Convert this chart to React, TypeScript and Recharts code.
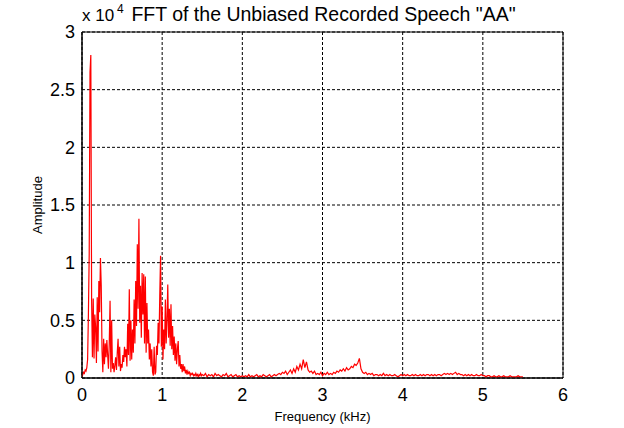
import React from "react";
import { LineChart, Line, XAxis, YAxis, CartesianGrid, ReferenceArea } from "recharts";

// Amplitudes in units of 10^4. Low band: 0.00–1.49 kHz, 0.01 kHz bins.
const lowBandStart = 0;
const lowBandStep = 0.01;
const lowBand = [
  0.01, 0.03, 0.05, 0.04, 0.07, 0.06, 0.09, 0.16, 0.56, 1.08,
  2.65, 2.8, 0.67, 0.18, 0.69, 0.17, 0.55, 0.44, 0.13, 0.7,
  0.23, 0.84, 0.57, 1.04, 0.8, 0.23, 0.05, 0.34, 0.12, 0.3,
  0.18, 0.33, 0.2, 0.08, 0.3, 0.67, 0.05, 0.5, 0.08, 0.13,
  0.05, 0.11, 0.18, 0.07, 0.22, 0.34, 0.1, 0.27, 0.06, 0.12,
  0.09, 0.2, 0.14, 0.27, 0.18, 0.25, 0.1, 0.47, 0.2, 0.77,
  0.15, 0.5, 0.16, 0.42, 0.22, 0.68, 0.3, 0.84, 0.45, 1.16,
  0.6, 1.38, 0.48, 0.8, 0.35, 0.91, 0.55, 0.9, 0.3, 0.88,
  0.22, 0.65, 0.3, 0.42, 0.16, 0.3, 0.1, 0.25, 0.05, 0.02,
  0.27, 0.03, 0.05, 0.28, 0.2, 0.48, 0.3, 0.71, 1.06, 0.27,
  0.62, 0.16, 0.42, 0.25, 0.68, 0.3, 0.5, 0.81, 0.35, 0.6,
  0.28, 0.64, 0.25, 0.45, 0.2, 0.36, 0.15, 0.3, 0.12, 0.25,
  0.32, 0.1, 0.2, 0.08, 0.12, 0.05, 0.12, 0.06, 0.1, 0.04,
  0.07, 0.03, 0.06, 0.04, 0.05, 0.02, 0.04, 0.03, 0.04, 0.02,
  0.03, 0.02, 0.04, 0.02, 0.03, 0.01, 0.03, 0.02, 0.04, 0.02,
];

// High band: 1.50–5.50 kHz, 0.02 kHz bins.
const highBandStart = 1.5;
const highBandStep = 0.02;
const highBand = [
  // 1.50–2.00
  0.03, 0.02, 0.04, 0.01, 0.03, 0.02, 0.03, 0.01, 0.04, 0.02, 0.03, 0.02, 0.01,
  0.03, 0.02, 0.04, 0.01, 0.02, 0.03, 0.01, 0.02, 0.03, 0.01, 0.02, 0.01, 0.02,
  // 2.02–2.44
  0.01, 0.02, 0.01, 0.03, 0.01, 0.02, 0.01, 0.02, 0.03, 0.01, 0.02,
  0.01, 0.03, 0.02, 0.01, 0.02, 0.03, 0.01, 0.02, 0.03, 0.02, 0.03,
  // 2.46–2.62
  0.04, 0.03, 0.05, 0.04, 0.06, 0.03, 0.05, 0.07, 0.04,
  // 2.64–2.82
  0.08, 0.05, 0.1, 0.07, 0.12, 0.08, 0.16, 0.09, 0.14, 0.07,
  // 2.84–2.92
  0.05, 0.06, 0.04, 0.06, 0.03,
  // 2.94–3.12
  0.04, 0.03, 0.05, 0.02, 0.04, 0.03, 0.05, 0.03, 0.04, 0.03,
  // 3.14–3.32
  0.05, 0.04, 0.06, 0.05, 0.07, 0.06, 0.08, 0.06, 0.09, 0.07,
  // 3.34–3.50
  0.08, 0.1, 0.09, 0.12, 0.11, 0.13, 0.17, 0.08, 0.05,
  // 3.52–3.94
  0.04, 0.05, 0.03, 0.04, 0.03, 0.04, 0.02, 0.03, 0.03, 0.02, 0.03,
  0.02, 0.04, 0.02, 0.03, 0.02, 0.03, 0.02, 0.02, 0.03, 0.02, 0.01,
  // 3.96–4.48
  0.02, 0.03, 0.02, 0.03, 0.02, 0.03, 0.02, 0.02, 0.03, 0.02, 0.03, 0.02, 0.02, 0.03,
  0.02, 0.03, 0.02, 0.03, 0.03, 0.02, 0.03, 0.02, 0.03, 0.02, 0.03, 0.03, 0.02,
  // 4.50–4.76
  0.03, 0.04, 0.03, 0.04, 0.03, 0.04, 0.03, 0.04, 0.05, 0.03, 0.04, 0.03, 0.03, 0.02,
  // 4.78–5.10
  0.03, 0.02, 0.03, 0.02, 0.03, 0.02, 0.02, 0.03, 0.02, 0.02, 0.03, 0.02, 0.02, 0.01, 0.02, 0.02, 0.01,
  // 5.12–5.50
  0.01, 0.02, 0.01, 0.01, 0.02, 0.01, 0.01, 0.02, 0.01, 0.01,
  0.01, 0.02, 0.01, 0.01, 0.01, 0.01, 0.02, 0.01, 0.01, 0.01,
];

const xTicks = [0, 1, 2, 3, 4, 5, 6];
const yTicks = [0, 0.5, 1, 1.5, 2, 2.5, 3];

const data = [
  ...lowBand.map((a, i) => ({ f: +(lowBandStart + i * lowBandStep).toFixed(3), a })),
  ...highBand.map((a, i) => ({ f: +(highBandStart + i * highBandStep).toFixed(3), a })),
];

const FONT = "'Liberation Sans', Arial, Helvetica, sans-serif";

export default function App() {
  return (
    <div style={{ position: "absolute", left: 0, top: 0, width: 624, height: 428, background: "#fff" }}>
      <LineChart
        width={624}
        height={428}
        data={data}
        margin={{ top: 32, right: 61, bottom: 0, left: 0 }}
      >
        <CartesianGrid stroke="#000" strokeDasharray="3 2" strokeWidth={1} />
        <XAxis
          dataKey="f"
          type="number"
          domain={[0, 6]}
          ticks={xTicks}
          tickLine={false}
          tickSize={0}
          tickMargin={10}
          height={50}
          axisLine={{ stroke: "#000" }}
          tick={{ fill: "#000", fontSize: 18, fontFamily: FONT }}
          allowDataOverflow
        />
        <YAxis
          type="number"
          domain={[0, 3]}
          ticks={yTicks}
          tickLine={false}
          tickSize={0}
          tickMargin={7}
          width={82}
          axisLine={{ stroke: "#000" }}
          tick={{ fill: "#000", fontSize: 18, fontFamily: FONT }}
          allowDataOverflow
        />
        <Line
          type="linear"
          dataKey="a"
          stroke="#ff0000"
          strokeWidth={1.2}
          dot={false}
          activeDot={false}
          isAnimationActive={false}
        />
        <ReferenceArea x1={0} x2={6} y1={0} y2={3} fill="none" stroke="#000" strokeWidth={1} ifOverflow="visible" />
        <text x={82} y={21} fontSize={17} fontFamily={FONT} fill="#000">x 10</text>
        <text x={117} y={13} fontSize={12} fontFamily={FONT} fill="#000">4</text>
        <text x={323.5} y={21} fontSize={19.5} fontFamily={FONT} fill="#000" textAnchor="middle">
          FFT of the Unbiased Recorded Speech "AA"
        </text>
        <text x={322.5} y={421} fontSize={13} fontFamily={FONT} fill="#000" textAnchor="middle">
          Frequency (kHz)
        </text>
        <text
          x={42}
          y={205}
          fontSize={13}
          fontFamily={FONT}
          fill="#000"
          textAnchor="middle"
          transform="rotate(-90 42 205)"
        >
          Amplitude
        </text>
      </LineChart>
    </div>
  );
}
